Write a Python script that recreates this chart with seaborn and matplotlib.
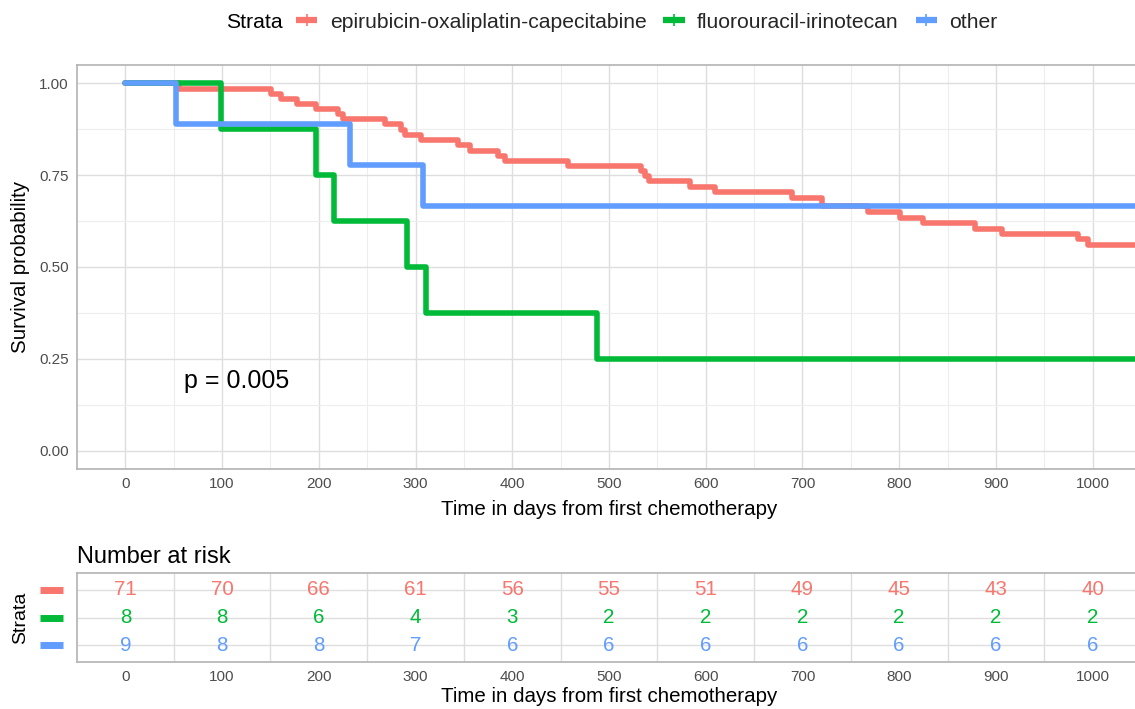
import matplotlib
matplotlib.use('Agg')
import matplotlib.pyplot as plt
import matplotlib.transforms as mtransforms
from matplotlib.lines import Line2D
import seaborn as sns
import pandas as pd

# ---------------- data ----------------
strata = ['epirubicin-oxaliplatin-capecitabine', 'fluorouracil-irinotecan', 'other']
colors = ['#F8766D', '#00BA38', '#619CFF']

time_eoc = [0, 55, 151, 161, 177, 197, 220, 225, 268, 285, 289, 306, 344, 356, 385, 392,
            458, 533, 537, 541, 584, 610, 689, 720, 768, 801, 825, 878, 906, 985, 995, 1050]
surv_eoc = [1.0, 0.986, 0.972, 0.958, 0.944, 0.930, 0.916, 0.902, 0.888, 0.874, 0.860, 0.846,
            0.832, 0.817, 0.803, 0.789, 0.776, 0.761, 0.747, 0.733, 0.718, 0.703, 0.689,
            0.665, 0.650, 0.634, 0.619, 0.604, 0.590, 0.576, 0.561, 0.561]

time_fi = [0, 99, 197, 216, 291, 311, 488, 1050]
surv_fi = [1.0, 0.875, 0.75, 0.625, 0.5, 0.375, 0.25, 0.25]

time_oth = [0, 52, 232, 308, 1050]
surv_oth = [1.0, 0.889, 0.778, 0.667, 0.667]

risk_times = [0, 100, 200, 300, 400, 500, 600, 700, 800, 900, 1000]
risk_eoc = [71, 70, 66, 61, 56, 55, 51, 49, 45, 43, 40]
risk_fi = [8, 8, 6, 4, 3, 2, 2, 2, 2, 2, 2]
risk_oth = [9, 8, 8, 7, 6, 6, 6, 6, 6, 6, 6]

y_ticks = [0.0, 0.25, 0.5, 0.75, 1.0]
y_ticklabels = ['0.00', '0.25', '0.50', '0.75', '1.00']
pval_text = 'p = 0.005'

df = pd.concat([
    pd.DataFrame({'time': time_eoc, 'surv': surv_eoc, 'strata': strata[0]}),
    pd.DataFrame({'time': time_fi, 'surv': surv_fi, 'strata': strata[1]}),
    pd.DataFrame({'time': time_oth, 'surv': surv_oth, 'strata': strata[2]}),
], ignore_index=True)

# ---------------- style ----------------
sns.set_theme(style='white')
plt.rcParams['font.family'] = ['Liberation Sans', 'DejaVu Sans']

W, H = 1135, 709
fig = plt.figure(figsize=(W / 100, H / 100), dpi=100)
fig.patch.set_facecolor('white')


def rect(l, t, r, b):
    return [l / W, 1 - b / H, (r - l) / W, (b - t) / H]


border = '#B3B3B3'
grid_major = '#DEDEDE'
grid_minor = '#EDEDED'
tick_col = '#4D4D4D'


def style_axes(ax):
    for s in ax.spines.values():
        s.set_color(border)
        s.set_linewidth(1.2)
    ax.tick_params(axis='both', which='major', length=4, width=1, color=border,
                   labelcolor=tick_col, labelsize=11, pad=2)
    ax.tick_params(axis='both', which='minor', length=0)
    ax.set_axisbelow(True)


# ---------------- main KM plot ----------------
ax = fig.add_axes(rect(77, 65, 1141, 469))
sns.lineplot(data=df, x='time', y='surv', hue='strata', hue_order=strata, palette=colors,
             estimator=None, drawstyle='steps-post', linewidth=4.0, legend=False, ax=ax)
ax.set_xlim(-50, 1050)
ax.set_ylim(-0.05, 1.05)
ax.set_xticks(risk_times)
ax.set_xticks([t + 50 for t in risk_times], minor=True)
ax.set_yticks(y_ticks)
ax.set_yticklabels(y_ticklabels)
ax.set_yticks([0.125, 0.375, 0.625, 0.875], minor=True)
ax.grid(which='major', color=grid_major, linewidth=1.0)
ax.grid(which='minor', color=grid_minor, linewidth=0.8)
style_axes(ax)
ax.set_xlabel('Time in days from first chemotherapy', fontsize=14.8, color='black', labelpad=6)
ax.set_ylabel('')
fig.text(20 / W, 1 - 267 / H, 'Survival probability', rotation=90, ha='center', va='center',
         fontsize=14.8, color='black')
ax.text(61, 0.19, pval_text, fontsize=18, ha='left', va='center', color='black')

# legend
fig.text(226 / W, 1 - 22 / H, 'Strata', ha='left', va='center', fontsize=15.2, color='black')
handles = [Line2D([0], [0], color=c, lw=4.5, marker='|', markersize=9, markeredgewidth=1.2,
                  solid_capstyle='butt') for c in colors]
fig.legend(handles, strata, loc='center left', bbox_to_anchor=(296 / W, 1 - 22 / H), ncol=3,
           frameon=False, fontsize=15.2, handlelength=1.0, handletextpad=0.6,
           columnspacing=0.8, borderpad=0, borderaxespad=0)

# ---------------- risk table ----------------
axt = fig.add_axes(rect(77, 573, 1141, 662))
axt.set_xlim(-50, 1050)
axt.set_ylim(0.4, 3.6)
rows = [3, 2, 1]
for vals, col, row in zip([risk_eoc, risk_fi, risk_oth], colors, rows):
    for t, v in zip(risk_times, vals):
        axt.text(t, row, str(v), ha='center', va='center', fontsize=14.8, color=col)
axt.set_xticks(risk_times)
axt.set_xticks([t + 50 for t in risk_times], minor=True)
axt.set_yticks(rows)
axt.set_yticklabels([])
axt.grid(which='minor', axis='x', color=grid_major, linewidth=1.0)
axt.grid(which='major', axis='y', color=grid_major, linewidth=1.0)
style_axes(axt)
axt.tick_params(axis='y', which='major', length=0)
axt.set_xlabel('Time in days from first chemotherapy', fontsize=14.8, color='black', labelpad=2)
axt.set_title('Number at risk', loc='left', fontsize=17, color='black', pad=7)
fig.text(21 / W, 1 - 618 / H, 'Strata', rotation=90, ha='center', va='center',
         fontsize=14, color='black')
trans = mtransforms.blended_transform_factory(axt.transAxes, axt.transData)
x0 = (40 - 77) / (1141 - 77)
x1 = (63 - 77) / (1141 - 77)
for col, row in zip(colors, rows):
    axt.plot([x0, x1], [row, row], transform=trans, color=col, lw=5, solid_capstyle='butt',
             clip_on=False)

fig.savefig('out.png', dpi=100, facecolor='white')
